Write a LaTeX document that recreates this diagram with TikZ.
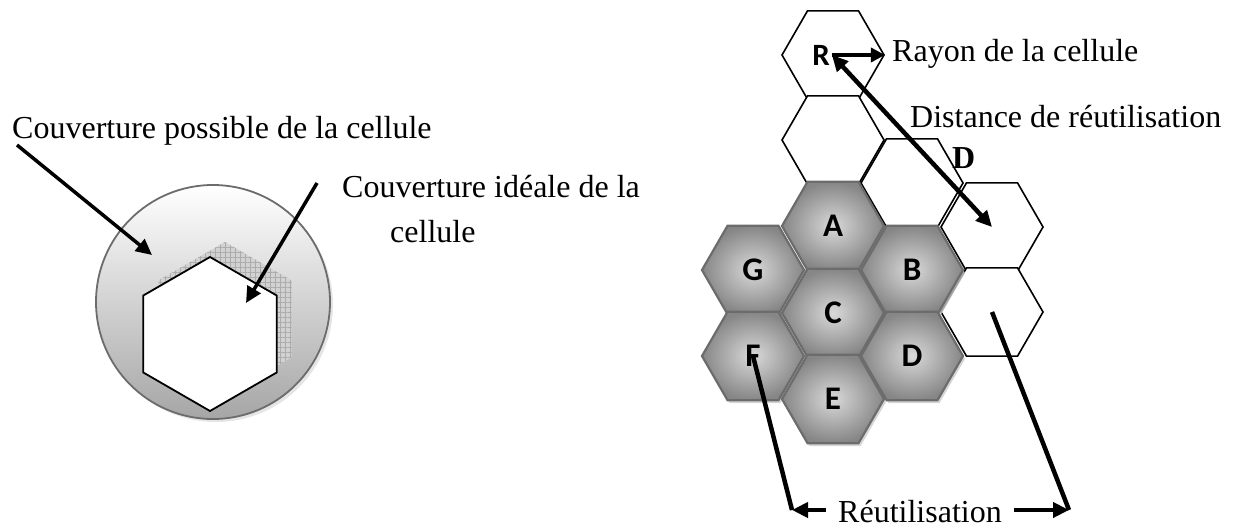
\documentclass[tikz,border=0pt]{standalone}
\usepackage{fontspec}
\setmainfont{Liberation Serif}
\newfontfamily\cellfont{Carlito}
\usetikzlibrary{arrows.meta,shapes.geometric,shadows,patterns.meta}

\tikzset{
  hexcell/.style={regular polygon,regular polygon sides=6,minimum size=102pt,inner sep=0pt,line width=1.6pt,
    font=\cellfont\bfseries\fontsize{33}{33}\selectfont},
  greycell/.style={hexcell,draw=gray!85!black,line width=2.2pt,inner color=gray!30,outer color=gray!95,
    drop shadow={shadow xshift=2pt,shadow yshift=-3pt,fill=gray!40,opacity=.8}},
  whitecell/.style={hexcell,draw=black,fill=white},
  bighex/.style={hexcell,minimum size=154pt,shape border rotate=30,line width=1.8pt},
  arr/.style={line width=4.5pt,-{Triangle[length=16pt,width=15pt]}},
  bar/.style={line width=4.5pt},
  txt/.style={font=\fontsize{32}{45}\selectfont,anchor=base west,inner sep=0pt}
}

\begin{document}
\begin{tikzpicture}[x=1pt,y=-1pt]
  \useasboundingbox (0,0) rectangle (1233,527);

  % coverage of one cell
  \node[circle,minimum size=234pt,draw=gray!85!black,line width=1.8pt,top color=white,bottom color=gray!70,
    drop shadow={shadow xshift=3pt,shadow yshift=-3pt,fill=gray!40}] (cover) at (213,302) {};
  \node[bighex,fill=gray!35,postaction={pattern={Hatch[angle=0,distance=5pt,line width=.5pt]},pattern color=gray!65}] (idealshadow) at (225,319) {};
  \node[bighex,draw=black,fill=white] (ideal) at (210,334) {};

  \node[txt] (possible) at (12,138) {Couverture possible de la cellule};
  \node[txt,align=left] (idealtxt) at (342,242) {Couverture idéale de la\\\hspace*{48pt}cellule};
  \draw[arr,line width=3.5pt] (17,145) -- ([shift={(-61,-47)}]cover.center);
  \draw[arr,line width=3.5pt] (317,183) -- ([shift={(36,-31)}]ideal.center);

  % cluster of 7 cells and the reused ones
  \node[whitecell] (rcell) at (833,55) {};
  \node[whitecell] (w1) at (833,140) {};
  \node[whitecell] (w2) at (912,183) {};
  \node[whitecell] (far1) at (992,227) {};
  \node[whitecell] (far2) at (992,312) {};

  \node[greycell] (cA) at (833,226) {A};
  \node[greycell] (cG) at (753,270) {G};
  \node[greycell] (cB) at (912,270) {B};
  \node[greycell] (cC) at (833,313) {C};
  \node[greycell] (cF) at (753,356) {F};
  \node[greycell] (cD) at (912,356) {D};
  \node[greycell] (cE) at (833,399) {E};

  \node[font=\cellfont\bfseries\fontsize{31}{31}\selectfont,inner sep=2pt] (rlab) at (821,55) {R};
  \draw[arr,line width=4pt,-{Triangle[length=14pt,width=14pt]}] (rlab.east) -- (rcell.east);
  \node[txt] (rayon) at (892,62) {Rayon de la cellule};

  \draw[arr,{Triangle[length=16pt,width=15pt]}-{Triangle[length=16pt,width=15pt]}] (rlab.east) -- (far1.center);
  \node[txt] (dist) at (910,127) {Distance de réutilisation};
  \node[txt,font=\fontsize{32}{45}\selectfont\bfseries] (dlab) at (952,168) {D};

  \node[font=\fontsize{32}{45}\selectfont,anchor=base,inner sep=12pt] (reuse) at (920,522) {Réutilisation};
  \coordinate (cornerL) at (792,510);
  \coordinate (cornerR) at (1069,510);
  \draw[bar] (cF.center) -- (cornerL);
  \draw[bar] (far2.center) -- (cornerR);
  \draw[arr] (reuse.west |- cornerL) -- (cornerL);
  \draw[arr] (reuse.east |- cornerR) -- (cornerR);
\end{tikzpicture}
\end{document}
